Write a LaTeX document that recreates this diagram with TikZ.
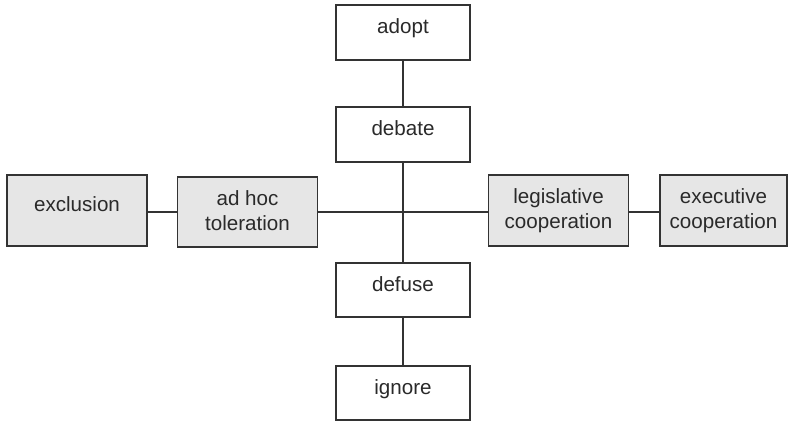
\documentclass[tikz,border=0pt]{standalone}
\usepackage{fontspec}
\setmainfont{Liberation Sans}
\definecolor{edge}{HTML}{333333}
\definecolor{boxgray}{HTML}{E6E6E6}
\definecolor{txt}{HTML}{2A2A2A}
\begin{document}
\begin{tikzpicture}[x=1pt,y=-1pt,
  box/.style={draw=edge,line width=1.6pt,minimum width=#1,inner sep=0pt,align=center,
    font=\fontsize{20.6}{25.5}\selectfont,text=txt},
  one/.style={text height=14.5pt,text depth=12pt},
  wbox/.style={box=134pt,fill=white,one},
  gbox/.style={box=140pt,fill=boxgray},
  conn/.style={draw=edge,line width=1.6pt}]
\useasboundingbox (0,0) rectangle (789,421);
\node[wbox,minimum height=55pt] (adopt) at (403,32.5) {adopt};
\node[wbox,minimum height=55pt] (debate) at (403,134.5) {debate};
\node[wbox,minimum height=54pt] (defuse) at (403,290) {defuse};
\node[wbox,minimum height=54pt] (ignore) at (403,393) {ignore};
\node[gbox,one,minimum height=71pt] (exclusion) at (77,210.5) {exclusion};
\node[gbox,minimum height=70pt] (adhoc) at (247.5,212) {ad hoc\\toleration\rule[-3pt]{0pt}{3pt}};
\node[gbox,minimum height=71pt] (legis) at (558.5,210.5) {legislative\\cooperation};
\node[box=127pt,fill=boxgray,minimum height=71pt] (exec) at (723.5,210.5) {executive\\cooperation};
\draw[conn] (adopt) -- (debate);
\draw[conn] (debate) -- (defuse);
\draw[conn] (defuse) -- (ignore);
\draw[conn] (exclusion.east |- 0,212) -- (adhoc.west |- 0,212);
\draw[conn] (adhoc.east |- 0,212) -- (legis.west |- 0,212);
\draw[conn] (legis.east |- 0,212) -- (exec.west |- 0,212);
\end{tikzpicture}
\end{document}
